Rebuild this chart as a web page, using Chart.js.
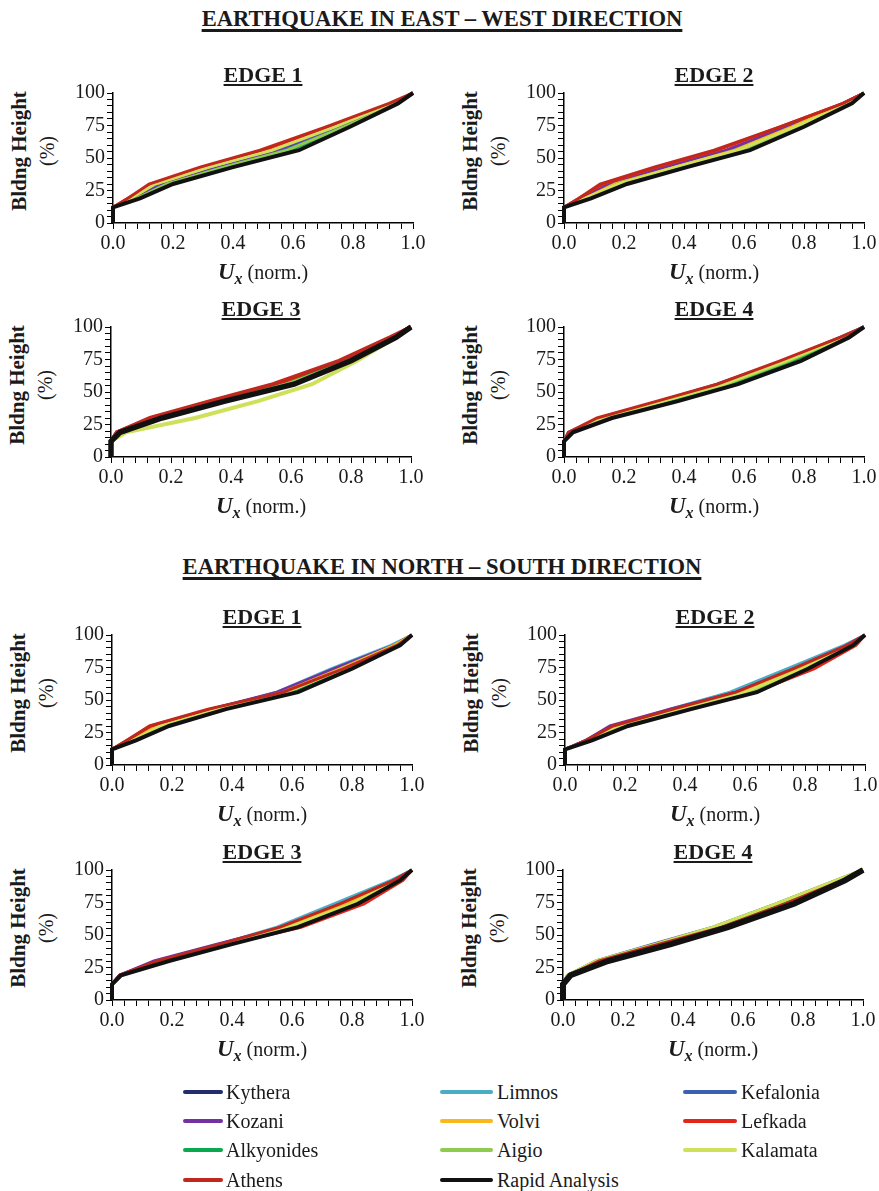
<!DOCTYPE html>
<html>
<head>
<meta charset="utf-8">
<script src="https://cdn.jsdelivr.net/npm/chart.js@4.4.1/dist/chart.umd.min.js"></script>
<style>
  body { margin: 0; background: #fff; }
  #page { position: relative; width: 879px; height: 1191px; overflow: hidden;
          font-family: 'Liberation Serif', 'Times New Roman', serif; color: #1a1a1a; }
  .abs { position: absolute; white-space: nowrap; }
  .section { font-weight: bold; font-size: 22.6px; line-height: 26px; text-decoration: underline;
             text-decoration-thickness: 3px; text-underline-offset: 3px; text-decoration-skip-ink: none;
             transform: translateX(-50%); }
  .edge { font-weight: bold; font-size: 22px; line-height: 24px; text-decoration: underline;
          text-decoration-thickness: 2px; text-underline-offset: 2px; text-decoration-skip-ink: none;
          transform: translate(-50%, -50%); }
  .ytitle { transform: translate(-50%, -50%) rotate(-90deg); text-align: center; line-height: 27px; }
  .ytitle b { font-size: 21px; }
  .ytitle span { font-size: 20px; }
  .xtitle { font-size: 20px; transform: translate(-50%, -50%); }
  .xtitle i { font-weight: bold; font-size: 23px; }
  .xtitle sub { font-size: 16px; font-weight: bold; font-style: italic; vertical-align: -5px; }
  canvas { position: absolute; }
  .swatch { position: absolute; height: 4px; border-radius: 2px; }
  .lbl { position: absolute; font-size: 20px; line-height: 22px; transform: translateY(-50%); white-space: nowrap; }
</style>
</head>
<body>
<div id="page"></div>
<script>
  // stations, in legend order (row by row)
  const stations = ['Kythera', 'Limnos', 'Kefalonia', 'Kozani', 'Volvi', 'Lefkada',
                    'Alkyonides', 'Aigio', 'Kalamata', 'Athens', 'Rapid Analysis'];
  const stationColors = ['#232d6b', '#4bacc6', '#3b60b2', '#7332a0', '#f8b91c', '#e3241b',
                         '#0aa84f', '#8fcb4f', '#cfe05b', '#c0281d', '#111111'];

  // floor levels (% of building height)
  const heights = [0, 12, 19, 30, 43, 56, 74, 92, 100];

  const xTickLabels = ['0.0', '0.2', '0.4', '0.6', '0.8', '1.0'];
  const yTickLabels = [0, 25, 50, 75, 100];

  // normalised Ux at each level, one row per station
  const ewEdge1 = [
    [0, 0, 0.07, 0.16, 0.34, 0.55, 0.75, 0.94, 1],
    [0, 0, 0.07, 0.17, 0.36, 0.57, 0.76, 0.94, 1],
    [0, 0, 0.07, 0.16, 0.35, 0.56, 0.76, 0.94, 1],
    [0, 0, 0.06, 0.15, 0.33, 0.54, 0.74, 0.94, 1],
    [0, 0, 0.06, 0.14, 0.32, 0.52, 0.73, 0.93, 1],
    [0, 0, 0.05, 0.13, 0.30, 0.50, 0.72, 0.93, 1],
    [0, 0, 0.08, 0.19, 0.38, 0.59, 0.78, 0.95, 1],
    [0, 0, 0.08, 0.18, 0.37, 0.58, 0.77, 0.95, 1],
    [0, 0, 0.06, 0.14, 0.32, 0.53, 0.74, 0.93, 1],
    [0, 0, 0.05, 0.12, 0.29, 0.49, 0.71, 0.92, 1],
    [0, 0, 0.09, 0.20, 0.40, 0.62, 0.79, 0.95, 1]
  ];
  const ewEdge2 = [
    [0, 0, 0.07, 0.17, 0.36, 0.56, 0.76, 0.94, 1],
    [0, 0, 0.06, 0.16, 0.35, 0.56, 0.75, 0.94, 1],
    [0, 0, 0.06, 0.15, 0.34, 0.55, 0.75, 0.94, 1],
    [0, 0, 0.06, 0.15, 0.34, 0.54, 0.74, 0.93, 1],
    [0, 0, 0.07, 0.17, 0.37, 0.57, 0.76, 0.94, 1],
    [0, 0, 0.05, 0.13, 0.31, 0.51, 0.72, 0.93, 1],
    [0, 0, 0.08, 0.18, 0.38, 0.59, 0.78, 0.95, 1],
    [0, 0, 0.08, 0.19, 0.38, 0.59, 0.78, 0.95, 1],
    [0, 0, 0.07, 0.18, 0.37, 0.58, 0.77, 0.95, 1],
    [0, 0, 0.05, 0.12, 0.30, 0.50, 0.72, 0.93, 1],
    [0, 0, 0.09, 0.21, 0.41, 0.62, 0.80, 0.96, 1]
  ];
  const ewEdge3 = [
    [0, 0, 0.025, 0.15, 0.35, 0.57, 0.78, 0.94, 1],
    [0, 0, 0.025, 0.15, 0.36, 0.58, 0.78, 0.94, 1],
    [0, 0, 0.025, 0.15, 0.35, 0.57, 0.78, 0.94, 1],
    [0, 0, 0.02, 0.14, 0.35, 0.56, 0.78, 0.94, 1],
    [0, 0, 0.025, 0.16, 0.36, 0.58, 0.79, 0.94, 1],
    [0, 0, 0.02, 0.14, 0.34, 0.55, 0.77, 0.94, 1],
    [0, 0, 0.03, 0.16, 0.37, 0.59, 0.79, 0.95, 1],
    [0, 0, 0.03, 0.16, 0.37, 0.59, 0.80, 0.95, 1],
    [0, 0, 0.05, 0.28, 0.49, 0.67, 0.82, 0.95, 1],
    [0, 0, 0.02, 0.13, 0.33, 0.54, 0.76, 0.93, 1],
    [0, 0, 0.03, 0.17, 0.38, 0.61, 0.80, 0.95, 1]
  ];
  const ewEdge4 = [
    [0, 0, 0.02, 0.13, 0.33, 0.53, 0.74, 0.93, 1],
    [0, 0, 0.015, 0.12, 0.32, 0.52, 0.74, 0.93, 1],
    [0, 0, 0.015, 0.12, 0.32, 0.51, 0.73, 0.92, 1],
    [0, 0, 0.02, 0.12, 0.33, 0.53, 0.74, 0.93, 1],
    [0, 0, 0.02, 0.13, 0.34, 0.55, 0.76, 0.93, 1],
    [0, 0, 0.015, 0.12, 0.32, 0.54, 0.76, 0.93, 1],
    [0, 0, 0.02, 0.14, 0.35, 0.55, 0.76, 0.94, 1],
    [0, 0, 0.02, 0.13, 0.33, 0.54, 0.75, 0.93, 1],
    [0, 0, 0.02, 0.13, 0.33, 0.53, 0.74, 0.93, 1],
    [0, 0, 0.015, 0.11, 0.31, 0.51, 0.72, 0.92, 1],
    [0, 0, 0.03, 0.16, 0.38, 0.58, 0.79, 0.95, 1]
  ];
  const nsEdge1 = [
    [0, 0, 0.06, 0.15, 0.34, 0.56, 0.75, 0.94, 1],
    [0, 0, 0.06, 0.15, 0.34, 0.55, 0.73, 0.93, 1],
    [0, 0, 0.06, 0.14, 0.33, 0.56, 0.74, 0.94, 1],
    [0, 0, 0.06, 0.14, 0.33, 0.55, 0.74, 0.94, 1],
    [0, 0, 0.06, 0.15, 0.35, 0.57, 0.76, 0.94, 1],
    [0, 0, 0.05, 0.13, 0.33, 0.58, 0.78, 0.96, 1],
    [0, 0, 0.07, 0.17, 0.37, 0.59, 0.78, 0.95, 1],
    [0, 0, 0.07, 0.17, 0.36, 0.58, 0.77, 0.95, 1],
    [0, 0, 0.07, 0.16, 0.36, 0.58, 0.77, 0.95, 1],
    [0, 0, 0.05, 0.125, 0.32, 0.57, 0.77, 0.95, 1],
    [0, 0, 0.08, 0.19, 0.38, 0.62, 0.80, 0.96, 1]
  ];
  const nsEdge2 = [
    [0, 0, 0.08, 0.17, 0.37, 0.58, 0.77, 0.95, 1],
    [0, 0, 0.07, 0.17, 0.35, 0.55, 0.74, 0.93, 1],
    [0, 0, 0.07, 0.16, 0.36, 0.57, 0.76, 0.94, 1],
    [0, 0, 0.07, 0.15, 0.35, 0.57, 0.77, 0.94, 1],
    [0, 0, 0.08, 0.18, 0.38, 0.59, 0.78, 0.95, 1],
    [0, 0, 0.08, 0.19, 0.41, 0.63, 0.83, 0.97, 1],
    [0, 0, 0.08, 0.19, 0.40, 0.61, 0.80, 0.96, 1],
    [0, 0, 0.08, 0.19, 0.39, 0.61, 0.79, 0.96, 1],
    [0, 0, 0.08, 0.18, 0.39, 0.60, 0.79, 0.95, 1],
    [0, 0, 0.07, 0.16, 0.36, 0.57, 0.76, 0.94, 1],
    [0, 0, 0.09, 0.21, 0.42, 0.64, 0.81, 0.96, 1]
  ];
  const nsEdge3 = [
    [0, 0, 0.03, 0.16, 0.37, 0.59, 0.79, 0.95, 1],
    [0, 0, 0.025, 0.15, 0.36, 0.55, 0.74, 0.93, 1],
    [0, 0, 0.025, 0.15, 0.36, 0.57, 0.76, 0.94, 1],
    [0, 0, 0.025, 0.14, 0.35, 0.57, 0.77, 0.94, 1],
    [0, 0, 0.03, 0.16, 0.37, 0.58, 0.78, 0.95, 1],
    [0, 0, 0.03, 0.17, 0.39, 0.63, 0.84, 0.97, 1],
    [0, 0, 0.03, 0.18, 0.39, 0.60, 0.81, 0.96, 1],
    [0, 0, 0.03, 0.17, 0.38, 0.60, 0.80, 0.96, 1],
    [0, 0, 0.03, 0.17, 0.38, 0.59, 0.80, 0.95, 1],
    [0, 0, 0.025, 0.15, 0.36, 0.56, 0.76, 0.94, 1],
    [0, 0, 0.03, 0.19, 0.40, 0.62, 0.82, 0.96, 1]
  ];
  const nsEdge4 = [
    [0, 0, 0.02, 0.12, 0.32, 0.52, 0.73, 0.92, 1],
    [0, 0, 0.015, 0.12, 0.32, 0.51, 0.72, 0.92, 1],
    [0, 0, 0.015, 0.11, 0.30, 0.50, 0.71, 0.91, 1],
    [0, 0, 0.02, 0.12, 0.32, 0.52, 0.73, 0.92, 1],
    [0, 0, 0.02, 0.13, 0.33, 0.52, 0.73, 0.92, 1],
    [0, 0, 0.02, 0.13, 0.33, 0.53, 0.75, 0.93, 1],
    [0, 0, 0.02, 0.12, 0.32, 0.51, 0.72, 0.92, 1],
    [0, 0, 0.015, 0.11, 0.31, 0.50, 0.71, 0.91, 1],
    [0, 0, 0.015, 0.11, 0.31, 0.50, 0.71, 0.91, 1],
    [0, 0, 0.02, 0.12, 0.32, 0.53, 0.74, 0.93, 1],
    [0, 0, 0.025, 0.15, 0.36, 0.55, 0.77, 0.94, 1]
  ];

  const sectionTitles = ['EARTHQUAKE IN EAST \u2013 WEST DIRECTION', 'EARTHQUAKE IN NORTH \u2013 SOUTH DIRECTION'];

  // page layout: plot-area corner of each panel
  const PLOT_W = 300, PLOT_H = 132;
  const Y_AXIS_W = 50, PAD_TOP = 12, PAD_RIGHT = 18, X_AXIS_H = 34, PAD_BOTTOM = 2;
  const panels = [
    { title: 'EDGE 1', rows: ewEdge1, left: 113, top: 91,  lineWidth: 3,   rapidWidth: 4 },
    { title: 'EDGE 2', rows: ewEdge2, left: 564, top: 91,  lineWidth: 3,   rapidWidth: 4 },
    { title: 'EDGE 3', rows: ewEdge3, left: 111, top: 325, lineWidth: 4,   rapidWidth: 5.5 },
    { title: 'EDGE 4', rows: ewEdge4, left: 564, top: 325, lineWidth: 3,   rapidWidth: 4 },
    { title: 'EDGE 1', rows: nsEdge1, left: 112, top: 633, lineWidth: 3,   rapidWidth: 4 },
    { title: 'EDGE 2', rows: nsEdge2, left: 565, top: 633, lineWidth: 3,   rapidWidth: 4 },
    { title: 'EDGE 3', rows: nsEdge3, left: 112, top: 868, lineWidth: 3,   rapidWidth: 4 },
    { title: 'EDGE 4', rows: nsEdge4, left: 563, top: 868, lineWidth: 3,   rapidWidth: 6 }
  ];
  const sectionTops = [6, 554];
  const legendCols = [{ x0: 183, x1: 223, tx: 226 }, { x0: 440, x1: 493, tx: 497 }, { x0: 683, x1: 737, tx: 741 }];
  const legendRows = [1092, 1121, 1150, 1180];

  Chart.defaults.font.family = "'Liberation Serif', 'Times New Roman', serif";
  Chart.defaults.font.size = 20;
  Chart.defaults.color = '#1a1a1a';

  const page = document.getElementById('page');

  function addDiv(cls, html, x, y) {
    const d = document.createElement('div');
    d.className = 'abs ' + cls;
    d.innerHTML = html;
    d.style.left = x + 'px';
    d.style.top = y + 'px';
    page.appendChild(d);
    return d;
  }

  sectionTitles.forEach((t, i) => addDiv('section', t, 442, sectionTops[i]));

  function makeChart(p) {
    const canvas = document.createElement('canvas');
    canvas.width = Y_AXIS_W + PLOT_W + PAD_RIGHT;
    canvas.height = PAD_TOP + PLOT_H + X_AXIS_H + PAD_BOTTOM;
    canvas.style.left = (p.left - Y_AXIS_W) + 'px';
    canvas.style.top = (p.top - PAD_TOP) + 'px';
    page.appendChild(canvas);

    const last = stations.length - 1;
    // later stations are painted over earlier ones, Rapid Analysis on top
    const datasets = stations.map((name, i) => ({
      label: name,
      data: p.rows[i].map((x, k) => ({ x: x, y: heights[k] })),
      borderColor: stationColors[i],
      backgroundColor: stationColors[i],
      borderWidth: i === last ? p.rapidWidth : p.lineWidth,
      pointRadius: 0,
      tension: 0,
      clip: false,
      order: stations.length - i
    }));

    new Chart(canvas.getContext('2d'), {
      type: 'line',
      data: { datasets },
      options: {
        responsive: false,
        devicePixelRatio: 1,
        animation: false,
        layout: { padding: { left: 0, right: PAD_RIGHT, top: PAD_TOP, bottom: PAD_BOTTOM } },
        plugins: { legend: { display: false }, tooltip: { enabled: false } },
        scales: {
          x: {
            type: 'linear', min: 0, max: 1,
            afterFit: s => { s.height = X_AXIS_H; },
            border: { color: '#000', width: 1.5 },
            grid: { drawOnChartArea: false, color: '#000', tickLength: 6 },
            ticks: {
              stepSize: 0.04, maxTicksLimit: 30, autoSkip: false, maxRotation: 0, padding: 3,
              callback: v => {
                const t = v.toFixed(1);
                return xTickLabels.includes(t) && Math.abs(v - Number(t)) < 1e-6 ? t : '';
              }
            }
          },
          y: {
            type: 'linear', min: 0, max: 100,
            afterFit: s => { s.width = Y_AXIS_W; },
            border: { color: '#000', width: 1.5 },
            grid: { drawOnChartArea: false, color: '#000', tickLength: 6 },
            ticks: {
              stepSize: 5, maxTicksLimit: 30, autoSkip: false, padding: 2,
              callback: v => yTickLabels.includes(v) ? String(v) : ''
            }
          }
        }
      }
    });

    addDiv('edge', p.title, p.left + PLOT_W / 2, p.top - 16);
    addDiv('ytitle', '<b>Bldng Height</b><br><span>(%)</span>', p.left - 79, p.top + 60);
    addDiv('xtitle', '<i>U</i><sub>x</sub> (norm.)', p.left + PLOT_W / 2, p.top + PLOT_H + 50);
  }

  panels.forEach(makeChart);

  // legend
  stations.forEach((name, i) => {
    const col = legendCols[i % 3];
    const y = legendRows[Math.floor(i / 3)];
    const sw = document.createElement('div');
    sw.className = 'swatch';
    sw.style.left = col.x0 + 'px';
    sw.style.width = (col.x1 - col.x0) + 'px';
    sw.style.top = (y - 2) + 'px';
    sw.style.background = stationColors[i];
    page.appendChild(sw);
    const lb = document.createElement('div');
    lb.className = 'lbl';
    lb.textContent = name;
    lb.style.left = col.tx + 'px';
    lb.style.top = y + 'px';
    page.appendChild(lb);
  });
</script>
</body>
</html>
